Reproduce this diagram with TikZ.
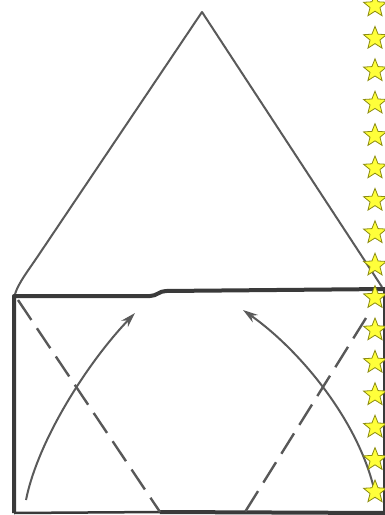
\documentclass[tikz,border=0pt]{standalone}
\usetikzlibrary{shapes.geometric,arrows.meta}
\definecolor{starfill}{HTML}{FFFF3A}
\definecolor{staredge}{HTML}{8C8C10}
\definecolor{thinline}{HTML}{5A5A5A}
\definecolor{boldline}{HTML}{3A3A3A}
\tikzset{
  roofline/.style={draw=thinline, line width=2pt, line join=round},
  boxline/.style={draw=boldline, line width=4pt},
  foldline/.style={draw=boldline!85, line width=2.4pt, dash pattern=on 24pt off 10pt},
  movearrow/.style={draw=thinline, line width=2pt, -{Stealth[length=15pt,width=9pt]}},
  starmark/.style={star, star points=5, star point ratio=2.3, minimum size=24pt, inner sep=0pt,
    fill=starfill, draw=staredge, line width=0.8pt},
}
\begin{document}
\begin{tikzpicture}[x=1pt,y=-1pt]
\useasboundingbox[fill=white] (0,0) rectangle (385,515);
% key points
\coordinate (apex) at (202,12);
\coordinate (roofL) at (15,294);
\coordinate (roofR) at (382,287);
\coordinate (boxTL) at (14,296);
\coordinate (stepA) at (150,296);
\coordinate (stepB) at (166,291);
\coordinate (boxTR) at (386,289);
\coordinate (boxBL) at (14,513);
\coordinate (boxBR) at (386,513);
\coordinate (dLa) at (18,300);
\coordinate (dLb) at (160,512);
\coordinate (dRa) at (366,318);
\coordinate (dRb) at (245,512);
\coordinate (aLs) at (26,500);
\coordinate (aLe) at (135,313);
\coordinate (aRs) at (376,498);
\coordinate (aRe) at (243,310);
% roof triangle
\draw[roofline] (roofL) .. controls (19,282) and (28,271) .. (40,253) -- (apex) -- (roofR);
% box
\draw[boxline, line join=round] (boxBL) -- (boxTL) -- (stepA) .. controls (157,296) and (159,291) .. (stepB) -- (boxTR);
\draw[draw=boldline, line width=2.5pt] (boxBL) -- (dLb);
\draw[boxline] (dLb) -- (boxBR);
\draw[draw=boldline, line width=1.5pt] (384,289) -- (384,513);
% fold lines
\draw[foldline] (dLa) -- (dLb);
\draw[foldline] (dRa) -- (dRb);
% arrows
\draw[movearrow] (aLs) .. controls (38,440) and (88,362) .. (aLe);
\draw[movearrow] (aRs) .. controls (362,424) and (300,350) .. (aRe);
% stars
\foreach \i in {0,...,15}{
  \node[starmark] (star\i) at (375,{6+32.4*\i}) {};
}
\end{tikzpicture}
\end{document}
